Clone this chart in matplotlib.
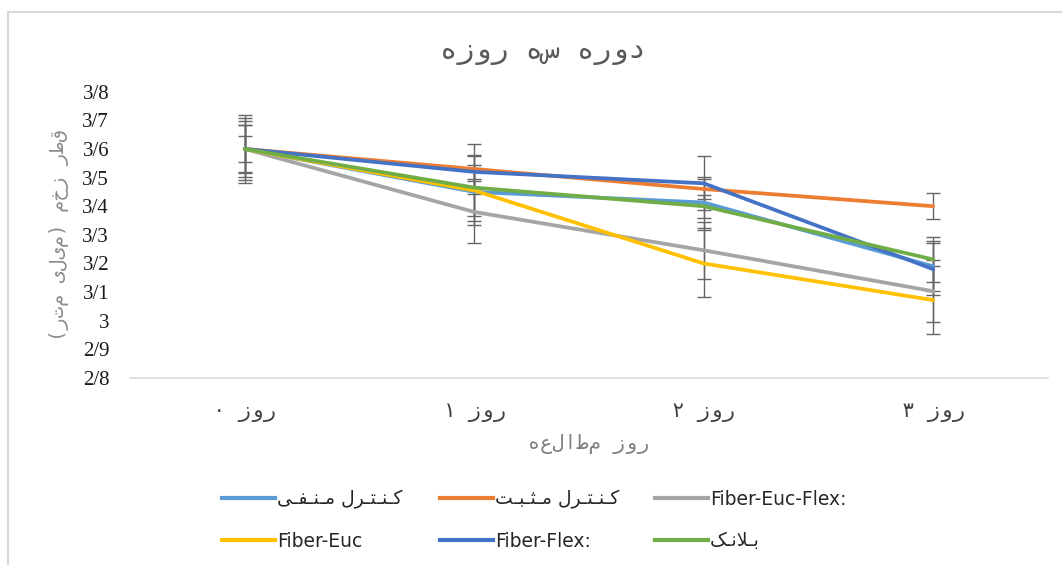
import matplotlib
matplotlib.use("Agg")
import matplotlib.pyplot as plt
from matplotlib.lines import Line2D
from matplotlib.patches import Rectangle

# data
days = ["روز ۰", "روز ۱", "روز ۲", "روز ۳"]
y_ticks = [2.8, 2.9, 3.0, 3.1, 3.2, 3.3, 3.4, 3.5, 3.6, 3.7, 3.8]
y_tick_labels = ["2/8", "2/9", "3", "3/1", "3/2", "3/3", "3/4", "3/5", "3/6", "3/7", "3/8"]

neg_ctrl = [3.60, 3.450, 3.413, 3.190]
pos_ctrl = [3.60, 3.530, 3.460, 3.400]
euc_flex = [3.60, 3.380, 3.246, 3.103]
euc = [3.60, 3.455, 3.200, 3.072]
flex = [3.60, 3.520, 3.480, 3.180]
blank = [3.60, 3.465, 3.400, 3.214]

neg_ctrl_err = [0.085, 0.085, 0.089, 0.087]
pos_ctrl_err = [0.109, 0.087, 0.036, 0.045]
euc_flex_err = [0.098, 0.107, 0.100, 0.108]
euc_err = [0.118, 0.120, 0.118, 0.120]
flex_err = [0.044, 0.025, 0.094, 0.090]
blank_err = [0.082, 0.115, 0.040, 0.080]

labels = ["کنترل منفی", "کنترل مثبت", "Fiber-Euc-Flex:", "Fiber-Euc", "Fiber-Flex:", "بلانک"]
colors = ["#5B9BD5", "#ED7D31", "#A5A5A5", "#FFC000", "#4472C4", "#70AD47"]
series = [neg_ctrl, pos_ctrl, euc_flex, euc, flex, blank]
errors = [neg_ctrl_err, pos_ctrl_err, euc_flex_err, euc_err, flex_err, blank_err]

title = "دوره سه روزه"
x_title = "روز مطالعه"
y_title = "قطر زخم (میلی متر)"

# presentation forms: isolated, final, initial, medial
FORMS = {
    'ک': ('\uFB8E', '\uFB8F', '\uFB90', '\uFB91'),
    'ن': ('\uFEE5', '\uFEE6', '\uFEE7', '\uFEE8'),
    'ت': ('\uFE95', '\uFE96', '\uFE97', '\uFE98'),
    'ر': ('\uFEAD', '\uFEAE', None, None),
    'ل': ('\uFEDD', '\uFEDE', '\uFEDF', '\uFEE0'),
    'م': ('\uFEE1', '\uFEE2', '\uFEE3', '\uFEE4'),
    'ف': ('\uFED1', '\uFED2', '\uFED3', '\uFED4'),
    'ی': ('\uFBFC', '\uFBFD', '\uFBFE', '\uFBFF'),
    'ث': ('\uFE99', '\uFE9A', '\uFE9B', '\uFE9C'),
    'ب': ('\uFE8F', '\uFE90', '\uFE91', '\uFE92'),
    'ا': ('\uFE8D', '\uFE8E', None, None),
}
MIRROR = {'(': ')', ')': '('}
TATWEEL = '\u0640'


def joins_next(c):
    return c in FORMS and FORMS[c][2] is not None


def shape(s):
    ''' crude persian joining (with kashida like excel) + reversal, matplotlib has no bidi '''
    if not any(c in FORMS for c in s):
        return s
    out = []
    i = 0
    while i < len(s):
        c = s[i]
        if c not in FORMS:
            out.append(c)
            i += 1
            continue
        prev = i > 0 and joins_next(s[i - 1])
        if c == 'ل' and i + 1 < len(s) and s[i + 1] == 'ا':
            out.append('\uFEFC' if prev else '\uFEFB')
            i += 2
            continue
        nxt = joins_next(c) and i + 1 < len(s) and s[i + 1] in FORMS
        iso, fin, ini, med = FORMS[c]
        out.append(med if prev and nxt else fin if prev else ini if nxt else iso)
        if nxt:
            out.append(TATWEEL)
        i += 1
    return ''.join(reversed(out))


def rtl(s):
    ''' just reverse, letters stay unjoined like in the reference '''
    return ''.join(MIRROR.get(c, c) for c in reversed(s))


W, H = 1062, 565
fig = plt.figure(figsize=(W / 100, H / 100), dpi=100)
ax = fig.add_axes([130 / W, 1 - 378 / H, 918 / W, (378 - 91.7) / H])

x = list(range(len(days)))
for vals, err in zip(series, errors):
    ax.errorbar(x, vals, yerr=err, fmt='none', ecolor='#666666',
                elinewidth=1.0, capsize=5, capthick=1.0, zorder=1)
for vals, col in zip(series, colors):
    ax.plot(x, vals, color=col, lw=2.7, solid_capstyle='round', zorder=2)

ax.set_xlim(-0.5, len(days) - 0.5)
ax.set_ylim(2.8, 3.8)
ax.set_yticks(y_ticks)
ax.set_yticklabels(y_tick_labels, family='Liberation Serif', fontsize=15, color='#1a1a1a')
ax.set_xticks(x)
ax.set_xticklabels([rtl(d) for d in days], family='DejaVu Sans Mono', fontsize=15, color='#404040')
ax.tick_params(length=0)
ax.tick_params(axis='y', pad=15)
ax.tick_params(axis='x', pad=17)
for s in ['top', 'right', 'left']:
    ax.spines[s].set_visible(False)
ax.spines['bottom'].set_color('#D9D9D9')
ax.spines['bottom'].set_linewidth(1.2)

ax.set_xlabel(rtl(x_title), family='DejaVu Sans Mono', fontsize=14.5, color='#808080', labelpad=9)
ax.set_ylabel(rtl(y_title), family='DejaVu Sans Mono', fontsize=14, color='#8c8c8c', labelpad=10)
fig.text(543 / W, 1 - 51 / H, rtl(title), family='DejaVu Sans Mono', fontsize=20.5,
         color='#595959', ha='center', va='center')

# legend, three columns of two rows like excel lays it out
col_x = [222, 440, 655]
for c in range(3):
    idx = [c, c + 3]
    handles = [Line2D([], [], color=colors[i], lw=3) for i in idx]
    leg = fig.legend(handles, [shape(labels[i]) for i in idx],
                     loc='center left', bbox_to_anchor=(col_x[c] / W, 1 - 520 / H),
                     frameon=False, handlelength=2.8, handletextpad=0.12,
                     labelspacing=1.2, borderpad=0, borderaxespad=0,
                     prop={'family': 'DejaVu Sans', 'size': 13.5})
    for t in leg.get_texts():
        t.set_color('#262626')

# chart area border (only top/left show in the crop)
fig.add_artist(Rectangle((8 / W, -0.1), 1.2, 1.1 - 12 / H, transform=fig.transFigure,
                         fill=False, edgecolor='#D9D9D9', lw=1.5))

fig.savefig("out.png", dpi=100)
